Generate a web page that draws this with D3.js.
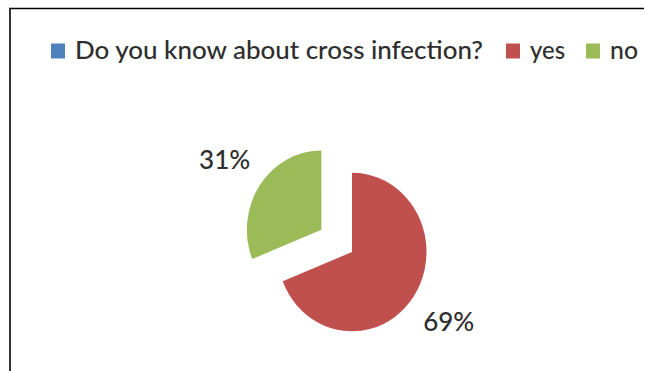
<!DOCTYPE html>
<html>
<head>
<meta charset="utf-8">
<script src="https://cdn.jsdelivr.net/npm/d3@7/dist/d3.min.js"></script>
<style>
  html, body { margin: 0; padding: 0; background: #fff; }
  svg { display: block; }
</style>
</head>
<body>
<svg id="chart" width="649" height="371"></svg>
<script>
// ---- data ----
const categories = ["yes", "no"];
const values = [69, 31];
const labels = ["69%", "31%"];
const legendItems = ["Do you know about cross infection?", "yes", "no"];
const legendColors = ["#4F81BD", "#C0504D", "#9BBB59"];
const sliceColors = ["#C0504D", "#9BBB59"];

// ---- layout ----
const W = 649, H = 371;
const svg = d3.select("#chart");
const font = "Lato, 'Open Sans', sans-serif";
const textColor = "#2e2e2e";

// frame (only left and top edges visible)
svg.append("path")
  .attr("d", d3.line()([[10, 371], [10, 8.5], [644, 8.5]]))
  .attr("fill", "none").attr("stroke", "#000").attr("stroke-width", 1.6);

// legend
const legendY = 50.5;
const legendTextWidths = [408, 35, 28];
const sq = 14;
const legend = svg.append("g");
let x = 51;
legendItems.forEach((name, i) => {
  legend.append("rect")
    .attr("x", x).attr("y", legendY - sq / 2).attr("width", sq).attr("height", sq + 1)
    .attr("fill", legendColors[i]);
  legend.append("text")
    .attr("x", x + sq + 10).attr("y", legendY)
    .attr("dy", "0.36em")
    .attr("font-family", font).attr("font-size", 24)
    .attr("font-weight", 500)
    .attr("fill", textColor)
    .attr("textLength", legendTextWidths[i])
    .attr("lengthAdjust", "spacingAndGlyphs")
    .text(name);
  x += sq + 10 + legendTextWidths[i] + (i === 0 ? 23 : 21);
});

// pie
const cx = 352, cy = 252;
const rx = 74.5, sy = 1.065;  // vertical stretch of the picture
const r = rx;
const explode = [0, 37];
const labelR = 117;

const pie = d3.pie().sort(null).value(d => d)(values);
const arc = d3.arc().innerRadius(0).outerRadius(r);
const labelArc = d3.arc().innerRadius(labelR).outerRadius(labelR);

const g = svg.append("g");
pie.forEach((p, i) => {
  const mid = (p.startAngle + p.endAngle) / 2;
  const dx = Math.sin(mid) * explode[i];
  const dy = -Math.cos(mid) * explode[i] * sy;
  g.append("path")
    .attr("d", arc(p))
    .attr("transform", `translate(${cx + dx},${cy + dy}) scale(1,${sy})`)
    .attr("fill", sliceColors[i]);
  const c = labelArc.centroid(p);
  g.append("text")
    .attr("x", cx + dx + c[0]).attr("y", cy + dy + c[1] * sy)
    .attr("dy", "0.36em")
    .attr("text-anchor", "middle")
    .attr("font-family", font).attr("font-size", 26)
    .attr("font-weight", 500)
    .attr("fill", textColor)
    .text(labels[i]);
});
</script>
</body>
</html>
